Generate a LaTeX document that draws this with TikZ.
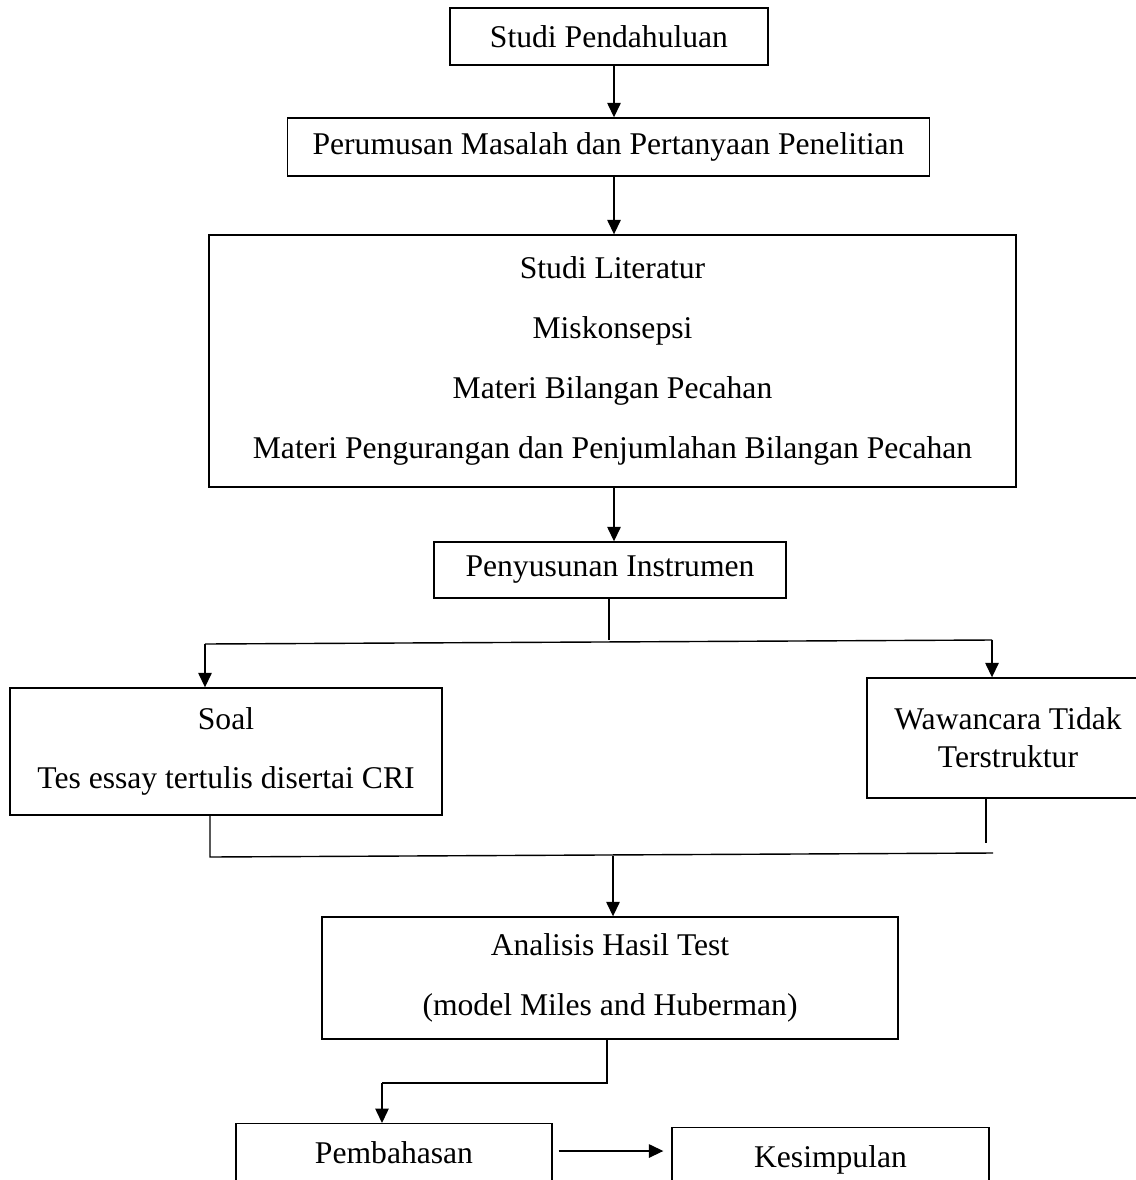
\documentclass[tikz,border=0pt]{standalone}
\usepackage{fontspec}
\setmainfont{Liberation Serif}
\usetikzlibrary{calc, arrows.meta}
\tikzset{
  kotak/.style={draw, line width=0.8pt, align=center, inner sep=0pt,
    font=\fontsize{18}{34}\selectfont},
  panah/.style={line width=0.8pt, -{Triangle[length=0.29cm,width=0.27cm]}},
  garis/.style={line width=0.8pt}
}

\begin{document}
\begin{tikzpicture}[x=0.02cm,y=-0.02cm]
            \useasboundingbox (0,0) rectangle (1136,1180);
            \clip (0,0) rectangle (1136,1180);
            % kotak utama
            \node[kotak, minimum width=6.36cm, minimum height=1.14cm] (sp) at (609,36.5) {Studi Pendahuluan};
            \node[kotak, minimum width=12.84cm, minimum height=1.16cm] (pm) at (608.5,147) {Perumusan Masalah dan Pertanyaan Penelitian};
            \node[kotak, minimum width=16.14cm, minimum height=5.04cm] (sl) at (612.5,361)
                {Studi Literatur\\Miskonsepsi\\Materi Bilangan Pecahan\\Materi Pengurangan dan Penjumlahan Bilangan Pecahan};
            \node[kotak, minimum width=7.04cm, minimum height=1.12cm] (pi) at (610,570) {Penyusunan Instrumen};
            \node[kotak, minimum width=8.64cm, minimum height=2.54cm] (soal) at (226,751.5) {Soal\\Tes essay tertulis disertai CRI};
            \node[kotak, minimum width=5.64cm, minimum height=2.4cm, font=\fontsize{18}{21.6}\selectfont] (ww) at (1008,738)
                {Wawancara Tidak\\Terstruktur};
            \node[kotak, minimum width=11.52cm, minimum height=2.44cm] (ana) at (610,978)
                {Analisis Hasil Test\\(model Miles and Huberman)};
            \node[kotak, anchor=north, minimum width=6.32cm, text height=0.8cm, text depth=0.7cm] (pb) at (394,1123) {Pembahasan};
            \node[kotak, anchor=north, minimum width=6.34cm, text height=0.8cm, text depth=0.7cm] (ks) at (830.5,1127) {Kesimpulan};

            % titik bantu
            \coordinate (x1) at (614,0);
            \coordinate (b1) at (609,640);
            \coordinate (bl) at (205,644);
            \coordinate (br) at (992,640);
            \coordinate (s1) at (210,857);
            \coordinate (w1) at (986,843);
            \coordinate (we) at (993,853);
            \coordinate (m1) at (613,856);
            \coordinate (a1) at (607,1083);
            \coordinate (p1) at (382,1083);
            \coordinate (h1) at (0,1151);

            % panah
            \draw[panah] (sp.south -| x1) -- (pm.north -| x1);
            \draw[panah] (pm.south -| x1) -- (sl.north -| x1);
            \draw[panah] (sl.south -| x1) -- (pi.north -| x1);
            \draw[garis] (pi.south -| b1) -- (b1);
            \draw[garis] (bl) -- (br);
            \draw[panah] (bl) -- (soal.north -| bl);
            \draw[panah] (br) -- (ww.north -| br);
            \draw[garis] (soal.south -| s1) -- (s1) -- (we);
            \draw[garis] (ww.south -| w1) -- (w1);
            \draw[panah] (m1) -- (ana.north -| m1);
            \draw[garis] (ana.south -| a1) -- (a1) -- (p1);
            \draw[panah] (p1) -- (pb.north -| p1);
            \draw[panah, shorten <=0.12cm, shorten >=0.16cm] (pb.east |- h1) -- (ks.west |- h1);
\end{tikzpicture}
\end{document}
